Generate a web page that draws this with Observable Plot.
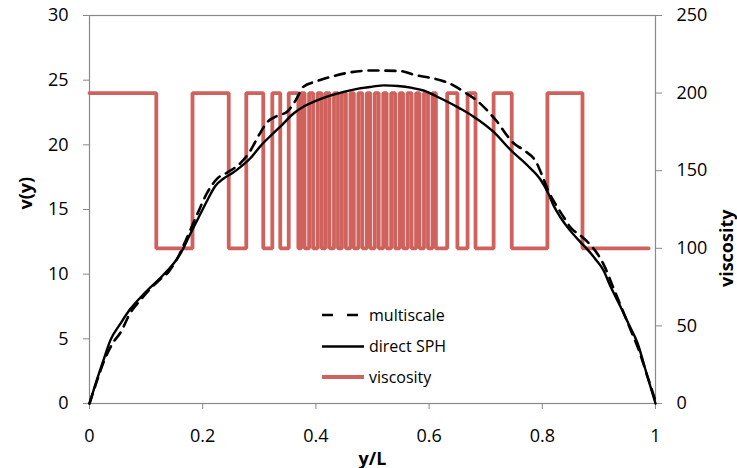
<!DOCTYPE html>
<html>
<head>
<meta charset="utf-8">
<script src="https://cdn.jsdelivr.net/npm/d3@7"></script>
<script src="https://cdn.jsdelivr.net/npm/@observablehq/plot@0.6"></script>
<style>
  html, body { margin: 0; padding: 0; background: #fff; }
  #chart { position: relative; width: 737px; height: 468px; overflow: hidden; }
</style>
</head>
<body>
<div id="chart"></div>
<script>
// ---- data ----
const xTicks = [0, 0.2, 0.4, 0.6, 0.8, 1];
const vTicks = [0, 5, 10, 15, 20, 25, 30];
const viscTicks = [0, 50, 100, 150, 200, 250];

// direct SPH (solid)
const sphX = [0, 0.012, 0.025, 0.037, 0.055, 0.072, 0.09, 0.108, 0.125, 0.138, 0.15, 0.161, 0.178, 0.193, 0.208, 0.222, 0.237, 0.252, 0.267, 0.285, 0.302, 0.32, 0.337, 0.36, 0.38, 0.4, 0.425, 0.449, 0.475, 0.5, 0.52, 0.545, 0.57, 0.59, 0.62, 0.655, 0.678, 0.714, 0.744, 0.774, 0.797, 0.81, 0.82, 0.832, 0.845, 0.867, 0.88, 0.895, 0.908, 0.92, 0.938, 0.953, 0.968, 0.985, 1.0];
const sphV = [0, 1.7, 3.4, 4.9, 6.2, 7.3, 8.2, 9.0, 9.7, 10.3, 10.9, 11.6, 13.1, 14.4, 15.7, 16.8, 17.4, 17.8, 18.3, 19.0, 19.9, 20.7, 21.4, 22.4, 23.0, 23.4, 23.8, 24.1, 24.35, 24.5, 24.6, 24.55, 24.4, 24.2, 23.6, 22.8, 22.2, 21.0, 19.6, 18.4, 17.3, 16.3, 15.3, 14.4, 13.6, 12.5, 11.9, 11.1, 10.3, 9.1, 7.5, 6.1, 4.7, 2.2, 0];

// multiscale (dashed)
const msX = [0, 0.012, 0.025, 0.04, 0.055, 0.072, 0.09, 0.108, 0.125, 0.14, 0.155, 0.17, 0.19, 0.208, 0.226, 0.245, 0.267, 0.285, 0.3, 0.315, 0.33, 0.35, 0.365, 0.378, 0.4, 0.43, 0.46, 0.5, 0.55, 0.575, 0.6, 0.62, 0.643, 0.665, 0.685, 0.708, 0.72, 0.738, 0.75, 0.767, 0.79, 0.8, 0.81, 0.825, 0.838, 0.85, 0.867, 0.882, 0.897, 0.91, 0.925, 0.94, 0.955, 0.97, 0.985, 1.0];
const msV = [0, 1.6, 3.2, 4.6, 5.5, 7.0, 8.0, 8.9, 9.6, 10.2, 11.2, 12.6, 14.6, 16.3, 17.4, 17.9, 18.6, 19.6, 20.8, 21.8, 22.2, 22.6, 23.5, 24.5, 24.9, 25.3, 25.6, 25.75, 25.7, 25.4, 25.2, 25.0, 24.6, 24.0, 23.4, 22.4, 21.8, 20.7, 20.1, 19.6, 18.6, 17.6, 16.5, 15.3, 14.4, 13.6, 13.0, 12.4, 11.6, 10.6, 9.0, 7.4, 5.8, 4.2, 2.2, 0.2];

// viscosity: step changes (segment start positions and level of each segment)
const viscStart = [0, 0.118, 0.182, 0.246, 0.277, 0.307, 0.323, 0.337, 0.352, 0.369,
  0.374, 0.380, 0.388, 0.395, 0.403, 0.410, 0.417, 0.424, 0.432, 0.439,
  0.446, 0.453, 0.461, 0.467, 0.475, 0.482, 0.490, 0.496, 0.504, 0.511,
  0.519, 0.525, 0.533, 0.540, 0.548, 0.554, 0.562, 0.569, 0.577, 0.583,
  0.591, 0.598, 0.606, 0.612,
  0.632, 0.650, 0.668, 0.682, 0.714, 0.746, 0.809, 0.871];
const viscLevel = [200, 100, 200, 100, 200, 100, 200, 100, 200, 100,
  200, 100, 200, 100, 200, 100, 200, 100, 200, 100,
  200, 100, 200, 100, 200, 100, 200, 100, 200, 100,
  200, 100, 200, 100, 200, 100, 200, 100, 200, 100,
  200, 100, 200, 100,
  200, 100, 200, 100, 200, 100, 200, 100];
const viscEnd = 0.988;

// ---- build tables ----
const sph = sphX.map((x, i) => ({x, v: sphV[i]}));
const ms = msX.map((x, i) => ({x, v: msV[i]}));
const visc = viscStart.map((x, i) => ({x, visc: viscLevel[i]}));
visc.push({x: viscEnd, visc: viscLevel[viscLevel.length - 1]});

const vMax = 30, viscMax = 250;
const toV = (s) => s * vMax / viscMax; // secondary axis mapping

const RED = "#cf625d";
const GRAY = "#898989";
const FONT = "'Open Sans', 'Liberation Sans', sans-serif";

const chart = Plot.plot({
  width: 737,
  height: 468,
  marginLeft: 89,
  marginRight: 82,
  marginTop: 15,
  marginBottom: 65,
  style: {fontFamily: FONT, fontSize: "18px", background: "white", color: "black", overflow: "visible"},
  x: {domain: [0, 1]},
  y: {domain: [0, vMax]},
  marks: [
    Plot.frame({stroke: GRAY, strokeWidth: 1.2}),
    Plot.axisX({ticks: xTicks, tickFormat: d => String(d), tickSize: 6, tickPadding: 20, stroke: GRAY, fill: "black", label: null, fontSize: 18}),
    Plot.axisY({ticks: vTicks, tickSize: 6, tickPadding: 15, stroke: GRAY, fill: "black", label: null, fontSize: 18}),
    Plot.axisY({anchor: "right", ticks: viscTicks.map(toV), tickFormat: d => String(Math.round(d * viscMax / vMax)), tickSize: 6, tickPadding: 15, stroke: GRAY, fill: "black", label: null, fontSize: 18}),
    Plot.line(visc, {x: "x", y: d => toV(d.visc), curve: "step-after", stroke: RED, strokeWidth: 3.8, strokeLinejoin: "miter"}),
    Plot.line(ms, {x: "x", y: "v", curve: "monotone-x", stroke: "black", strokeWidth: 2.6, strokeDasharray: "10,7"}),
    Plot.line(sph, {x: "x", y: "v", curve: "monotone-x", stroke: "black", strokeWidth: 2.4}),
    Plot.text(["v(y)"], {frameAnchor: "left", dx: -63, rotate: -90, fontWeight: "bold", fontSize: 18, fill: "black"}),
    Plot.text(["viscosity"], {frameAnchor: "right", dx: 72, rotate: -90, fontWeight: "bold", fontSize: 18, fill: "black"}),
    Plot.text(["y/L"], {frameAnchor: "bottom", dy: 61, fontWeight: "bold", fontSize: 18, fill: "black"})
  ]
});

document.getElementById("chart").appendChild(chart);

// ---- legend (inside the plot area) ----
const svg = d3.select(chart);
const lg = svg.append("g").attr("font-family", FONT).attr("font-size", 16).attr("text-anchor", "start");
const items = [
  {label: "multiscale", stroke: "black", width: 2.6, dash: "11,14", y: 315},
  {label: "direct SPH", stroke: "black", width: 2.6, dash: null, y: 346.5},
  {label: "viscosity", stroke: RED, width: 3.8, dash: null, y: 377}
];
for (const it of items) {
  const l = lg.append("line").attr("x1", 322).attr("x2", 364).attr("y1", it.y).attr("y2", it.y)
    .attr("stroke", it.stroke).attr("stroke-width", it.width);
  if (it.dash) l.attr("stroke-dasharray", it.dash);
  lg.append("text").attr("x", 369).attr("y", it.y).attr("dy", "0.35em").attr("text-anchor", "start").attr("fill", "black").text(it.label);
}
</script>
</body>
</html>
